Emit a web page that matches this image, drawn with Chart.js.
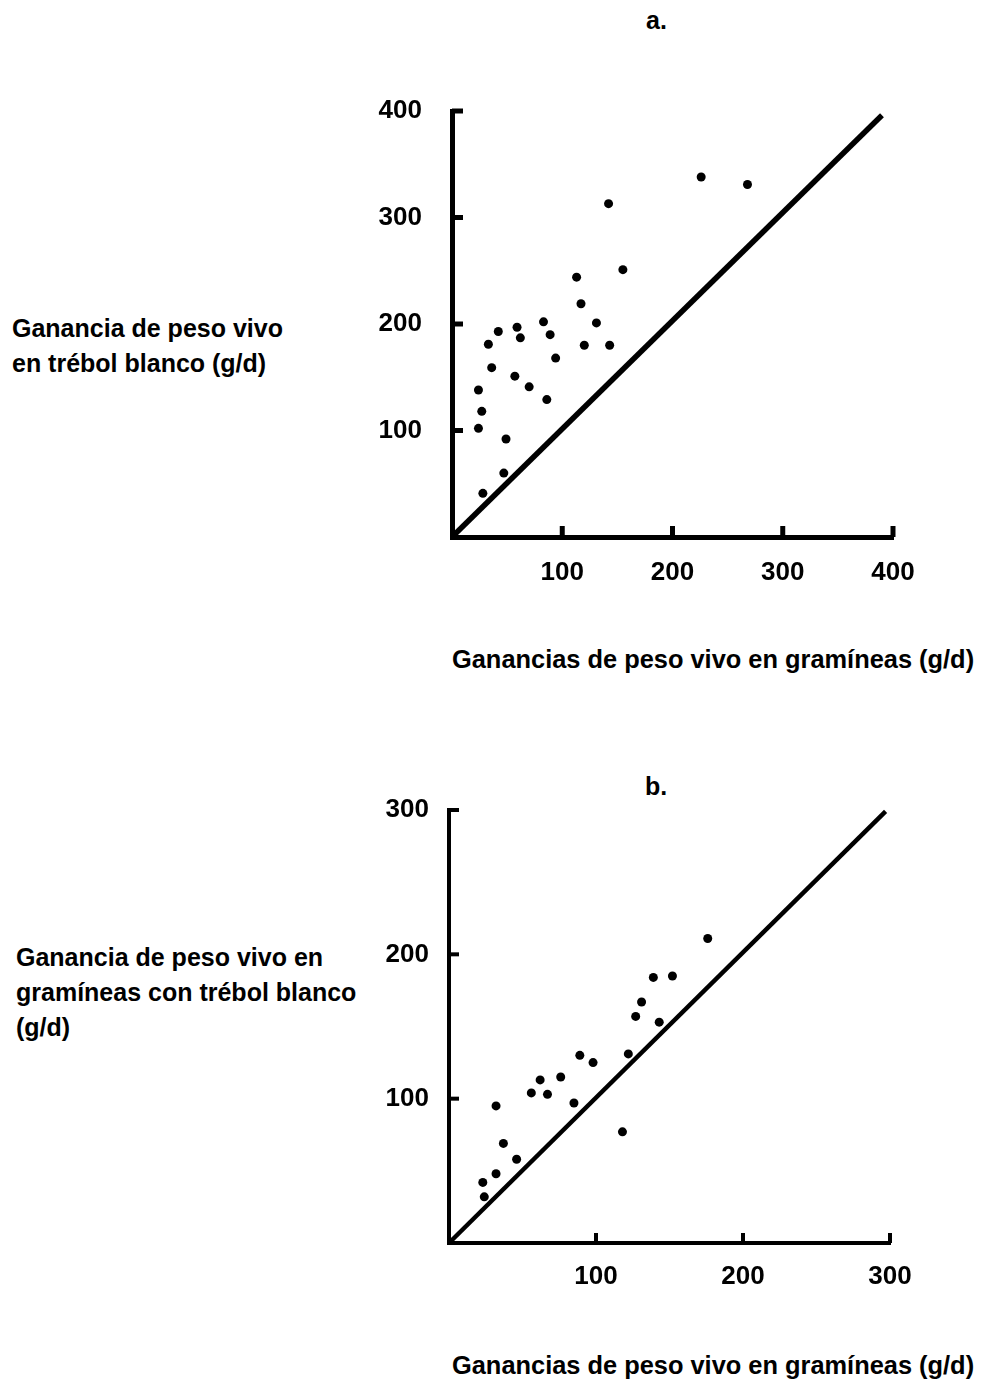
<!DOCTYPE html>
<html>
<head>
<meta charset="utf-8">
<script src="https://cdn.jsdelivr.net/npm/chart.js@4.4.0/dist/chart.umd.min.js"></script>
<style>
  html, body { margin: 0; padding: 0; background: #fff; }
  body { width: 981px; height: 1381px; position: relative; overflow: hidden;
         font-family: "Liberation Sans", Arial, Helvetica, sans-serif; font-weight: bold; color: #000; }
  .txt { position: absolute; font-size: 25px; line-height: 35px; white-space: nowrap; }
  .box { position: absolute; }
  canvas { display: block; }
</style>
</head>
<body>
<div class="txt" style="left:646px; top:3px;">a.</div>
<div class="txt" style="left:12px; top:311px;">Ganancia de peso vivo<br>en trébol blanco (g/d)</div>
<div class="txt" style="left:452px; top:642px; font-size:25.4px;">Ganancias de peso vivo en gramíneas (g/d)</div>
<div class="box" style="left:360px; top:80px; width:600px; height:530px;"><canvas id="ca" width="600" height="530"></canvas></div>

<div class="txt" style="left:645px; top:769px;">b.</div>
<div class="txt" style="left:16px; top:940px;">Ganancia de peso vivo en<br>gramíneas con trébol blanco<br>(g/d)</div>
<div class="txt" style="left:452px; top:1348px; font-size:25.4px;">Ganancias de peso vivo en gramíneas (g/d)</div>
<div class="box" style="left:360px; top:780px; width:600px; height:540px;"><canvas id="cb" width="600" height="540"></canvas></div>

<script>
// ---- Chart a data ----
const aTicksX = [100, 200, 300, 400];
const aTicksY = [100, 200, 300, 400];
const aGrassX = [226, 268, 142, 113, 155, 117, 131, 42, 59, 83, 62, 89, 33, 120, 143, 94, 36, 57, 70, 24, 86, 27, 24, 49, 47, 28];
const aCloverY = [338, 331, 313, 244, 251, 219, 201, 193, 197, 202, 187, 190, 181, 180, 180, 168, 159, 151, 141, 138, 129, 118, 102, 92, 60, 41];
const aLineX = [0, 390];
const aLineY = [0, 396];

// ---- Chart b data ----
const bTicksX = [100, 200, 300];
const bTicksY = [100, 200, 300];
const bGrassX = [176, 139, 152, 131, 127, 143, 89, 98, 122, 62, 76, 56, 67, 85, 32, 118, 37, 46, 32, 23, 24];
const bMixY = [211, 184, 185, 167, 157, 153, 130, 125, 131, 113, 115, 104, 103, 97, 95, 77, 69, 58, 48, 42, 32];
const bLineX = [0, 297];
const bLineY = [0, 299];

Chart.defaults.font.family = '"Liberation Sans", Arial, Helvetica, sans-serif';
Chart.defaults.font.weight = 'bold';
Chart.defaults.color = '#000';

const inwardTicks = {
  id: 'inwardTicks',
  afterDraw(chart, args, opts) {
    const ctx = chart.ctx, ca = chart.chartArea;
    ctx.save();
    ctx.strokeStyle = '#000';
    ctx.lineWidth = opts.width;
    ctx.lineCap = 'butt';
    chart.scales.x.ticks.forEach(t => {
      const px = chart.scales.x.getPixelForValue(t.value);
      ctx.beginPath(); ctx.moveTo(px, ca.bottom); ctx.lineTo(px, ca.bottom - opts.len); ctx.stroke();
    });
    chart.scales.y.ticks.forEach(t => {
      const py = chart.scales.y.getPixelForValue(t.value);
      ctx.beginPath(); ctx.moveTo(ca.left, py); ctx.lineTo(ca.left + opts.len, py); ctx.stroke();
    });
    ctx.restore();
  }
};

function makeChart(id, xs, ys, lx, ly, ticksX, ticksY, maxV, cfg) {
  const pts = xs.map((x, i) => ({ x: x, y: ys[i] }));
  const line = lx.map((x, i) => ({ x: x, y: ly[i] }));
  return new Chart(document.getElementById(id), {
    type: 'scatter',
    data: {
      datasets: [
        { data: line, showLine: true, borderColor: '#000', borderWidth: cfg.diag, pointRadius: 0, fill: false, clip: false, borderCapStyle: 'butt' },
        { data: pts, backgroundColor: '#000', borderWidth: 0, pointRadius: cfg.r, pointHoverRadius: cfg.r, clip: false }
      ]
    },
    options: {
      responsive: false,
      animation: false,
      events: [],
      layout: { padding: { top: cfg.top, right: cfg.right, left: 0, bottom: 0 } },
      plugins: { legend: { display: false }, tooltip: { enabled: false }, inwardTicks: { len: cfg.tickLen, width: cfg.axis } },
      scales: {
        x: {
          type: 'linear', min: 0, max: maxV,
          grid: { display: false },
          border: { display: true, color: '#000', width: cfg.axis },
          afterBuildTicks: s => { s.ticks = ticksX.map(v => ({ value: v })); },
          afterFit: s => { s.height = cfg.xh; s.paddingLeft = 0; s.paddingRight = 0; },
          ticks: { padding: cfg.xpad, font: { size: 26, weight: 'bold' }, color: '#000', maxRotation: 0 }
        },
        y: {
          type: 'linear', min: 0, max: maxV,
          grid: { display: false },
          border: { display: true, color: '#000', width: cfg.axis },
          afterBuildTicks: s => { s.ticks = ticksY.map(v => ({ value: v })); },
          afterFit: s => { s.width = cfg.yw; s.paddingTop = 0; s.paddingBottom = 0; },
          ticks: { padding: cfg.ypad, font: { size: 26, weight: 'bold' }, color: '#000' }
        }
      }
    },
    plugins: [inwardTicks]
  });
}

makeChart('ca', aGrassX, aCloverY, aLineX, aLineY, aTicksX, aTicksY, 400,
  { top: 31, right: 67, xh: 73, yw: 92, axis: 5, diag: 5.5, r: 4.5, tickLen: 11, xpad: 12, ypad: 22 });
makeChart('cb', bGrassX, bMixY, bLineX, bLineY, bTicksX, bTicksY, 300,
  { top: 30, right: 70, xh: 77, yw: 89, axis: 4, diag: 4.5, r: 4.5, tickLen: 10, xpad: 10, ypad: 12 });
</script>
</body>
</html>
